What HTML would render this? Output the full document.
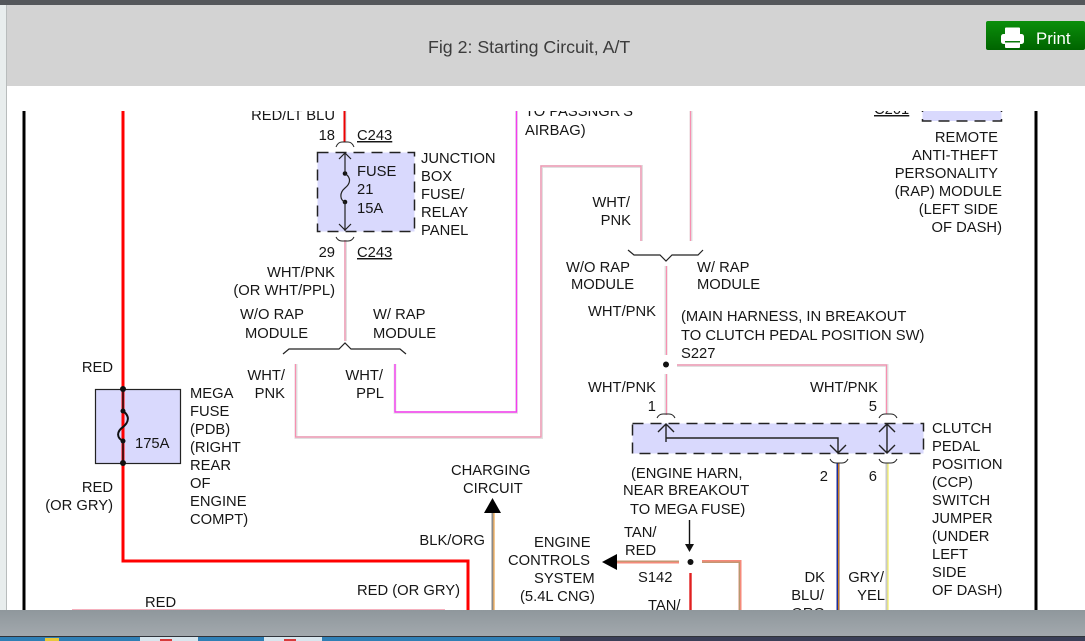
<!DOCTYPE html>
<html><head><meta charset="utf-8"><title>Fig 2: Starting Circuit, A/T</title>
<style>
html,body{margin:0;padding:0;width:1085px;height:641px;overflow:hidden;background:#fff}
svg{display:block}
text{font-family:"Liberation Sans",sans-serif;font-size:14.75px;fill:#161616}
.e{text-anchor:end}.m{text-anchor:middle}
.l{fill:none;stroke:#222;stroke-width:1.2}
.d{fill:none;stroke:#222;stroke-width:1.5;stroke-dasharray:11 7}
.g{fill:none;stroke:#e0e0e0;stroke-width:3}
.p{fill:none;stroke:#f78fb0;stroke-width:1.2}
.arc{fill:none;stroke:#222;stroke-width:1}
</style></head><body>
<svg width="1085" height="641" viewBox="0 0 1085 641" xmlns="http://www.w3.org/2000/svg">
<defs><clipPath id="c"><rect x="7" y="111" width="1078" height="499"/></clipPath>
<linearGradient id="gb" x1="0" y1="0" x2="0" y2="1"><stop offset="0" stop-color="#0b8f0b"/><stop offset="1" stop-color="#006400"/></linearGradient>
<linearGradient id="bar" x1="0" y1="0" x2="0" y2="1"><stop offset="0" stop-color="#8f979c"/><stop offset="1" stop-color="#a3a9ae"/></linearGradient></defs>
<rect width="1085" height="641" fill="#fff"/>
<rect x="0" y="0" width="7" height="641" fill="#e8eded"/>
<rect x="6" y="5" width="1" height="636" fill="#b8bcbc"/>
<rect x="7" y="5" width="1078" height="81" fill="#d3d3d3"/>
<rect x="0" y="0" width="1085" height="5" fill="#54575b"/>
<text x="428" y="53" style="font-size:17.75px;fill:#3c3c3c">Fig 2: Starting Circuit, A/T</text>
<rect x="986" y="21" width="99" height="29" rx="2" fill="url(#gb)"/>
<g fill="#fff"><rect x="1005" y="27.500" width="15" height="8" rx="1"/><rect x="1001" y="34" width="23" height="10" rx="2.500"/><rect x="1005" y="42" width="15" height="6" rx="1"/></g>
<rect x="1005" y="41" width="15" height="1.500" fill="#0a7a0a"/>
<text x="1036" y="44" style="font-size:16.800px;fill:#fff">Print</text>

<g clip-path="url(#c)">
<!-- frame -->
<rect x="22.500" y="111" width="3" height="499" fill="#000"/>
<rect x="1034.500" y="111" width="3" height="499" fill="#000"/>
<!-- boxes -->
<rect x="317.500" y="152.500" width="97" height="79" fill="#d9d9fd"/>
<rect x="632.500" y="423.500" width="291" height="30" fill="#d9d9fd"/>
<rect x="95.500" y="389.500" width="85" height="74" fill="#d9d9fd" stroke="#222" stroke-width="1.200"/>
<rect x="922.500" y="90" width="79" height="31" fill="#d9d9fd"/>
<rect x="922.500" y="90" width="79" height="31" class="d"/>
<rect x="317.500" y="152.500" width="97" height="79" class="d"/>
<rect x="632.500" y="423.500" width="291" height="30" class="d"/>
<!-- red wires -->
<path d="M123 111V561H468V610" fill="none" stroke="#f00" stroke-width="3"/>
<path d="M345 111V142" fill="none" stroke="#cfe3ea" stroke-width="3"/>
<path d="M344.500 111V142" fill="none" stroke="#e00" stroke-width="2"/>
<!-- white/pink wires -->
<path d="M345.500 240V341" class="g"/><path d="M345 240V341" class="p"/>
<path d="M296 364V437.500H541.500V166.500H641.500V241" class="g"/><path d="M295.500 364V437H541V166H641V241" class="p"/>
<path d="M691 111V241" class="g"/><path d="M690.500 111V241" class="p"/>
<path d="M666 266V355M666 374V415" class="g"/><path d="M666.500 266V355M666.500 374V415" class="p"/>
<path d="M677 365.500H887V414" class="g"/><path d="M677 365H886.500V414" class="p"/>
<!-- magenta -->
<path d="M395 364V412.500H516.500V111" fill="none" stroke="#e8e8e8" stroke-width="3"/>
<path d="M395 364V412H516.500V111" fill="none" stroke="#f53cf0" stroke-width="1.400"/>
<!-- lower wires -->
<path d="M838 463V610" fill="none" stroke="#1c2f9c" stroke-width="3"/><path d="M838.700 463V610" fill="none" stroke="#f58a00" stroke-width="1"/>
<path d="M887 463V610" fill="none" stroke="#c9c9c9" stroke-width="3"/><path d="M888 463V610" fill="none" stroke="#f4f060" stroke-width="1.200"/>
<path d="M493 513V610" fill="none" stroke="#8a8a8a" stroke-width="3"/><path d="M494 513V610" fill="none" stroke="#f0b060" stroke-width="1.400"/>
<path d="M617 562H679" fill="none" stroke="#f58a7a" stroke-width="3"/><path d="M617 561.200H679" fill="none" stroke="#b59a70" stroke-width="1.200"/>
<path d="M702 561.500H740V610" fill="none" stroke="#f58a7a" stroke-width="3"/><path d="M702 562.200H739.400V610" fill="none" stroke="#b59a70" stroke-width="1.200"/>
<path d="M690.500 573V610" fill="none" stroke="#e02020" stroke-width="2.400"/>
<path d="M72 609.500H445" stroke="#f5b0bd" fill="none"/>
<!-- fuse 21 -->
<path d="M339 159L345 153L351 159M339 224L345 230L351 224" class="l"/>
<circle cx="345" cy="173.500" r="2.300" fill="#111"/><circle cx="345" cy="202" r="2.300" fill="#111"/>
<path d="M345 173.500C352 178 350 184 345 188C339 193 340 200 345 202" class="l"/>
<path d="M345 153V173M345 202V231" class="l"/>
<!-- mega fuse -->
<path d="M123 389V411M123 441V463" fill="none" stroke="#111" stroke-width="1.400"/>
<path d="M123 411C130 416 129 422 123 427C116 432 117 438 123 441" fill="none" stroke="#111" stroke-width="2"/>
<circle cx="123" cy="389" r="3" fill="#111"/><circle cx="123" cy="463" r="3" fill="#111"/>
<circle cx="123" cy="411" r="2.500" fill="#111"/><circle cx="123" cy="441" r="2.500" fill="#111"/>
<!-- connector arcs -->
<path d="M336 147Q338 142 342 142H348Q352 142 354 147" class="arc"/>
<path d="M336 237Q338 241 342 241H348Q352 241 354 237" class="arc"/>
<path d="M657 418Q659 414 663 414H669Q673 414 675 418" class="arc"/>
<path d="M879 418Q881 414 885 414H891Q895 414 897 418" class="arc"/>
<path d="M830 459Q832 463 836 463H842Q846 463 848 459" class="arc"/>
<path d="M879 459Q881 463 885 463H891Q895 463 897 459" class="arc"/>
<!-- braces -->
<path d="M283 354L289 349H339L345 343L351 349H400L406 354" class="l"/>
<path d="M628 250L634 255H660L666 261L672 255H698L703 250" class="l"/>
<!-- clutch internal -->
<path d="M666 424V442M666 438H838V453M658 432L666 424L674 432M830 445L838 453L846 445" fill="none" stroke="#222" stroke-width="1.400"/>
<path d="M887 424V453M879 432L887 424L895 432M879 445L887 453L895 445" fill="none" stroke="#222" stroke-width="1.400"/>
<!-- dots & arrows -->
<circle cx="666" cy="364.500" r="3" fill="#111"/>
<circle cx="690.500" cy="562" r="3" fill="#111"/>
<path d="M689.500 520V546" stroke="#111" stroke-width="1.400" fill="none"/>
<path d="M685 544H694L689.500 552Z" fill="#111"/>
<path d="M484 513L492.500 498L501 513Z" fill="#000"/>
<path d="M602 562L617 554V570Z" fill="#000"/>

<!-- labels -->
<text class="e" x="335" y="120">RED/LT BLU</text>
<text class="e" x="335" y="140">18</text>
<text x="357" y="140" text-decoration="underline">C243</text>
<text x="357" y="176">FUSE</text><text x="357" y="194">21</text><text x="357" y="213">15A</text>
<text x="421" y="163">JUNCTION</text><text x="421" y="181">BOX</text><text x="421" y="199">FUSE/</text><text x="421" y="217">RELAY</text><text x="421" y="235">PANEL</text>
<text class="e" x="335" y="257">29</text>
<text x="357" y="257" text-decoration="underline">C243</text>
<text class="e" x="335" y="277">WHT/PNK</text><text class="e" x="335" y="295">(OR WHT/PPL)</text>
<text x="240" y="319">W/O RAP</text><text x="245" y="338">MODULE</text>
<text x="373" y="319">W/ RAP</text><text x="373" y="338">MODULE</text>
<text class="e" x="285" y="380">WHT/</text><text class="e" x="285" y="398">PNK</text>
<text class="e" x="383" y="380">WHT/</text><text class="e" x="384" y="398">PPL</text>
<text class="e" x="113" y="372">RED</text>
<text class="e" x="113" y="492">RED</text><text class="e" x="113" y="510">(OR GRY)</text>
<text x="135" y="448">175A</text>
<text x="190" y="398">MEGA</text><text x="190" y="416">FUSE</text><text x="190" y="434">(PDB)</text><text x="190" y="452">(RIGHT</text><text x="190" y="470">REAR</text><text x="190" y="488">OF</text><text x="190" y="506">ENGINE</text><text x="190" y="524">COMPT)</text>
<text x="451" y="475">CHARGING</text><text x="463" y="493">CIRCUIT</text>
<text class="e" x="485" y="545">BLK/ORG</text>
<text class="e" x="460" y="595">RED (OR GRY)</text>
<text x="145" y="607">RED</text>
<text x="534" y="547">ENGINE</text><text x="508" y="565">CONTROLS</text><text x="534" y="583">SYSTEM</text><text x="520" y="601">(5.4L CNG)</text>
<text x="525" y="116">TO PASSNGR'S</text><text x="525" y="135">AIRBAG)</text>
<text class="e" x="630" y="207">WHT/</text><text class="e" x="631" y="225">PNK</text>
<text x="566" y="272">W/O RAP</text><text x="571" y="289">MODULE</text>
<text x="697" y="272">W/ RAP</text><text x="697" y="289">MODULE</text>
<text class="e" x="656" y="316">WHT/PNK</text>
<text x="681" y="321">(MAIN HARNESS, IN BREAKOUT</text><text x="681" y="340">TO CLUTCH PEDAL POSITION SW)</text><text x="681" y="358">S227</text>
<text class="e" x="656" y="392">WHT/PNK</text><text class="e" x="878" y="392">WHT/PNK</text>
<text class="e" x="656" y="411">1</text><text class="e" x="877" y="411">5</text>
<text class="e" x="828" y="481">2</text><text class="e" x="877" y="481">6</text>
<text x="631" y="478">(ENGINE HARN,</text><text x="623" y="495">NEAR BREAKOUT</text><text x="630" y="514">TO MEGA FUSE)</text>
<text x="624" y="537">TAN/</text><text x="625" y="555">RED</text><text x="638" y="582">S142</text><text x="648" y="610">TAN/</text>
<text class="e" x="825" y="582">DK</text><text class="e" x="824" y="600">BLU/</text><text class="e" x="825" y="618">ORG</text>
<text class="e" x="884" y="582">GRY/</text><text class="e" x="885" y="600">YEL</text>
<text x="874" y="114" text-decoration="underline">C201</text>
<text class="e" x="998" y="142">REMOTE</text><text class="e" x="998" y="160">ANTI-THEFT</text><text class="e" x="998" y="178">PERSONALITY</text><text class="e" x="1002" y="196">(RAP) MODULE</text><text class="e" x="998" y="214">(LEFT SIDE</text><text class="e" x="1002" y="232">OF DASH)</text>
<text x="932" y="433">CLUTCH</text><text x="932" y="451">PEDAL</text><text x="932" y="469">POSITION</text><text x="932" y="487">(CCP)</text><text x="932" y="505">SWITCH</text><text x="932" y="523">JUMPER</text><text x="932" y="541">(UNDER</text><text x="932" y="559">LEFT</text><text x="932" y="577">SIDE</text><text x="932" y="595">OF DASH)</text>
</g>
<!-- bottom bars -->
<rect x="0" y="610" width="1085" height="27" fill="url(#bar)"/>
<rect x="0" y="636" width="1085" height="1" fill="#30343a"/>
<rect x="0" y="637" width="1085" height="4" fill="#2f7fb5"/>
<rect x="140" y="637" width="58" height="4" fill="#d8e6ee"/>
<rect x="264" y="637" width="58" height="4" fill="#d8e6ee"/>
<rect x="45" y="638" width="14" height="3" fill="#e8c83a"/>
<rect x="160" y="639" width="12" height="2" fill="#d83a3a"/>
<rect x="284" y="639" width="12" height="2" fill="#d83a3a"/>
<rect x="560" y="637" width="525" height="4" fill="#3a3f58"/>
</svg>
</body></html>
